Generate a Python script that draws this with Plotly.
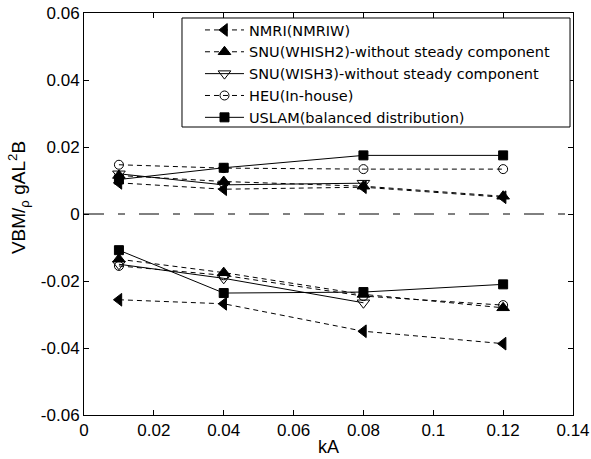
import plotly.graph_objects as go

# ---- data ----
kA = [0.01, 0.04, 0.08, 0.12]
kA_wish3 = [0.01, 0.04, 0.08]

nmri_hog = [0.0093, 0.0074, 0.0080, 0.0050]
nmri_sag = [-0.0256, -0.0268, -0.0350, -0.0387]
whish2_hog = [0.0115, 0.0097, 0.0083, 0.0053]
whish2_sag = [-0.0135, -0.0175, -0.0240, -0.0280]
wish3_hog = [0.0120, 0.0087, 0.0092]
wish3_sag = [-0.0150, -0.0192, -0.0265]
heu_hog = [0.0147, 0.0137, 0.0134, 0.0134]
heu_sag = [-0.0155, -0.0183, -0.0245, -0.0272]
uslam_hog = [0.0103, 0.0138, 0.0175, 0.0175]
uslam_sag = [-0.0108, -0.0236, -0.0233, -0.0210]

names = ["NMRI(NMRIW)",
         "SNU(WHISH2)-without steady component",
         "SNU(WISH3)-without steady component",
         "HEU(In-house)",
         "USLAM(balanced distribution)"]

x_ticks = [0, 0.02, 0.04, 0.06, 0.08, 0.1, 0.12, 0.14]
x_ticktext = ["0", "0.02", "0.04", "0.06", "0.08", "0.1", "0.12", "0.14"]
y_ticks = [-0.06, -0.04, -0.02, 0, 0.02, 0.04, 0.06]
y_ticktext = ["-0.06", "-0.04", "-0.02", "0", "0.02", "0.04", "0.06"]

FONT = "Arial, Liberation Sans, sans-serif"
LEG_FONT = "DejaVu Sans, Arial, sans-serif"
DASH = "5px,4px"

series = [
    (names[0], kA, nmri_hog, nmri_sag, DASH,
     dict(symbol="triangle-left", size=11, color="black", line=dict(color="black", width=1))),
    (names[1], kA, whish2_hog, whish2_sag, DASH,
     dict(symbol="triangle-up", size=11, color="black", line=dict(color="black", width=1))),
    (names[2], kA_wish3, wish3_hog, wish3_sag, "solid",
     dict(symbol="triangle-down-open", size=11, color="black", line=dict(color="black", width=1))),
    (names[3], kA, heu_hog, heu_sag, DASH,
     dict(symbol="circle-open", size=9, color="black", line=dict(color="black", width=1))),
    (names[4], kA, uslam_hog, uslam_sag, "solid",
     dict(symbol="square", size=9, color="black", line=dict(color="black", width=1))),
]

fig = go.Figure()
for name, xs, hog, sag, dash, marker in series:
    fig.add_trace(go.Scatter(x=xs, y=hog, mode="lines+markers", name=name,
                             legendgroup=name, line=dict(color="black", width=1, dash=dash),
                             marker=marker))
    fig.add_trace(go.Scatter(x=xs, y=sag, mode="lines+markers", name=name,
                             legendgroup=name, showlegend=False,
                             line=dict(color="black", width=1, dash=dash),
                             marker=marker))

fig.add_hline(y=0, line=dict(color="black", width=1, dash="20px,14px,7px,14px"))

# legend frame (drawn as a box behind the legend entries)
fig.add_shape(type="rect", xref="paper", yref="paper",
              x0=0.2004, x1=0.9939, y0=0.7164, y1=0.9876,
              fillcolor="white", line=dict(color="black", width=1), layer="above")

axis_common = dict(showgrid=False, zeroline=False, showline=True, linecolor="black",
                   linewidth=1, mirror="ticks", ticks="inside", ticklen=5,
                   tickcolor="black", automargin=False,
                   tickfont=dict(family=FONT, size=17, color="black"))

fig.update_xaxes(range=[0, 0.14], tickvals=x_ticks, ticktext=x_ticktext,
                 title=dict(text="kA", font=dict(family=FONT, size=18, color="black"), standoff=0),
                 **axis_common)
fig.update_yaxes(range=[-0.06, 0.06], tickvals=y_ticks, ticktext=y_ticktext,
                 **axis_common)

fig.add_annotation(text="VBM/<sub>ρ</sub> gAL<sup>2</sup>B", xref="paper", yref="paper",
                   x=-0.135, y=0.542, xanchor="center", yanchor="middle",
                   textangle=-90, showarrow=False,
                   font=dict(family=FONT, size=19, color="black"))

fig.update_layout(
    width=591, height=459,
    margin=dict(l=84, r=18, t=13, b=44),
    plot_bgcolor="white", paper_bgcolor="white",
    font=dict(family=FONT, color="black"),
    hovermode=False,
    legend=dict(x=0.2372, y=0.9975, xanchor="left", yanchor="top",
                bgcolor="rgba(0,0,0,0)", borderwidth=0,
                font=dict(family=LEG_FONT, size=14.5, color="black"),
                tracegroupgap=0, itemwidth=39),
)

fig.write_html("out.html", config={"displayModeBar": False},
               post_script="document.body.style.margin='0';")
